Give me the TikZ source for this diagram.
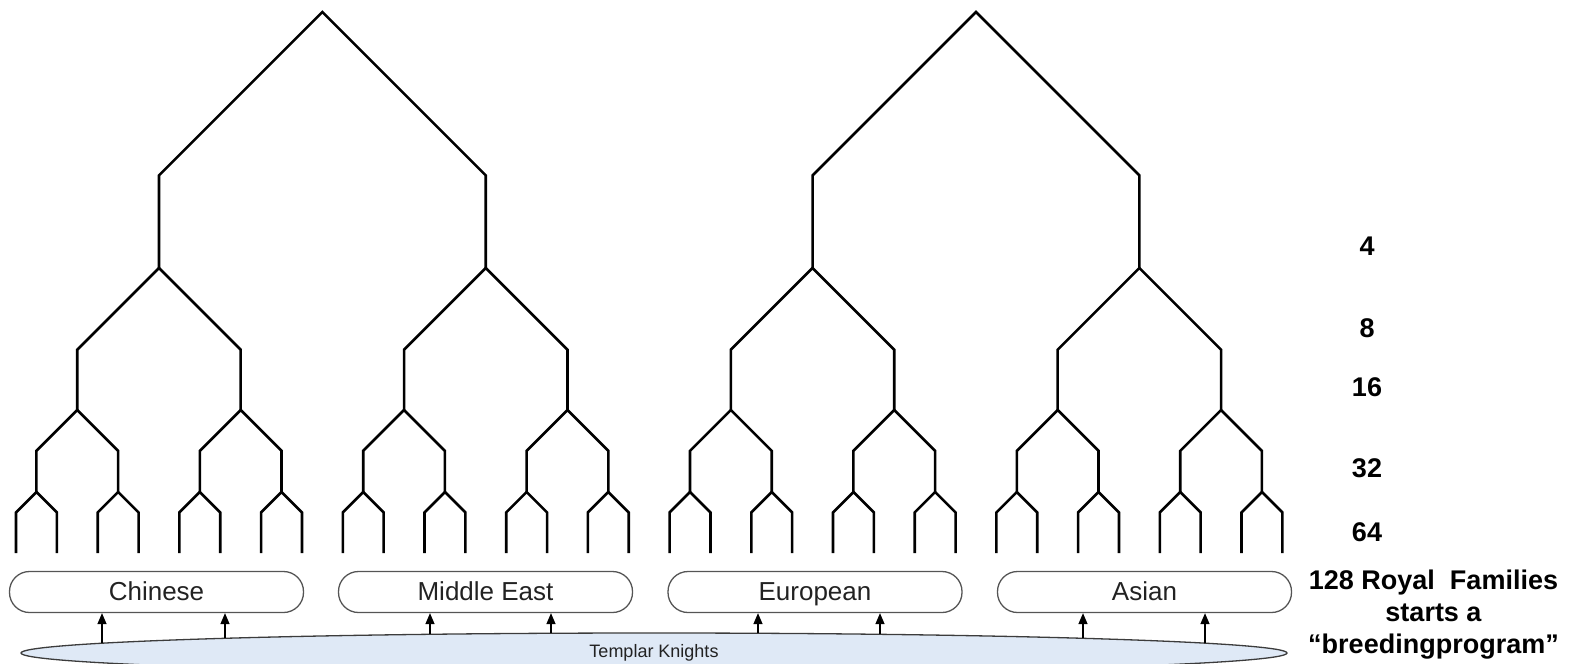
\documentclass[tikz,border=0pt]{standalone}
\usepackage{fontspec}
\setmainfont{Liberation Sans}
\usetikzlibrary{shapes.geometric,arrows.meta}
\definecolor{boxline}{RGB}{85,85,85}
\definecolor{txt}{RGB}{34,34,34}
\definecolor{ellfill}{RGB}{223,233,246}
\definecolor{ellline}{RGB}{60,60,60}
\tikzset{
  tree/.style={line width=2.6pt, black, line join=miter},
  fambox/.style={draw=boxline, line width=1.3pt, rounded corners=20pt,
    minimum width=294pt, minimum height=41pt, inner sep=0pt,
    text height=19pt, text depth=2pt,
    text=txt, font=\fontsize{26}{30}\selectfont},
  arr/.style={line width=1.4pt, black, -{Triangle[width=9pt,length=11pt]}},
  count/.style={font=\fontsize{27}{32}\selectfont\bfseries, text=black, inner sep=0pt},
}
\begin{document}
\begin{tikzpicture}[x=1pt,y=-1pt]
\useasboundingbox (0,0) rectangle (1575,664);
\clip (0,0) rectangle (1575,664);
% trees
\def\s{40.85}
\foreach \lev/\n/\m/\yf/\yn in {4/1/16/12/268, 2/3/8/268/410, 1/7/4/410/492, 0.5/15/2/492/553}{
  \foreach \k in {0,...,\n}{
    \pgfmathsetmacro\cx{16+\s*(\m*\k+(\m-1)/2)}
    \pgfmathsetmacro\d{\lev*\s}
    \draw[tree] (\cx-\d,\yn) -- (\cx-\d,\yf+\d) -- (\cx,\yf) -- (\cx+\d,\yf+\d) -- (\cx+\d,\yn);
  }
}
% family boxes
\node[fambox] (chinese)  at (156.5,592) {Chinese};
\node[fambox] (mideast)  at (485.5,592) {Middle East};
\node[fambox] (european) at (815,592) {European};
\node[fambox] (asian)    at (1144.5,592) {Asian};
% templar ellipse
\node[ellipse, draw=ellline, line width=1.3pt, fill=ellfill, minimum width=1266pt,
  minimum height=40pt, inner sep=0pt, text=txt, font=\fontsize{18}{21}\selectfont]
  (tk) at (654,653) {Templar Knights};
% arrows
\foreach \x/\b [count=\i] in {102/chinese,225/chinese,430/mideast,551/mideast,758/european,880/european,1083/asian,1205/asian}{
  \pgfmathsetmacro\ye{653-20*sqrt(1-((\x-654)/633)^2)}
  \coordinate (a\i) at (\x,\ye);
  \draw[arr] (a\i) -- (a\i |- \b.south);
}
% counts
\node[count] (n4)  at (1367,246) {4};
\node[count] (n8)  at (1367,328) {8};
\node[count] (n16) at (1367,387) {16};
\node[count] (n32) at (1367,468) {32};
\node[count] (n64) at (1367,532) {64};
\node[count, align=center, font=\fontsize{27}{32}\selectfont\bfseries] (royal) at (1433.5,615)
  {128 Royal\ \ Families\\starts a\\“breedingprogram”};
\end{tikzpicture}
\end{document}
